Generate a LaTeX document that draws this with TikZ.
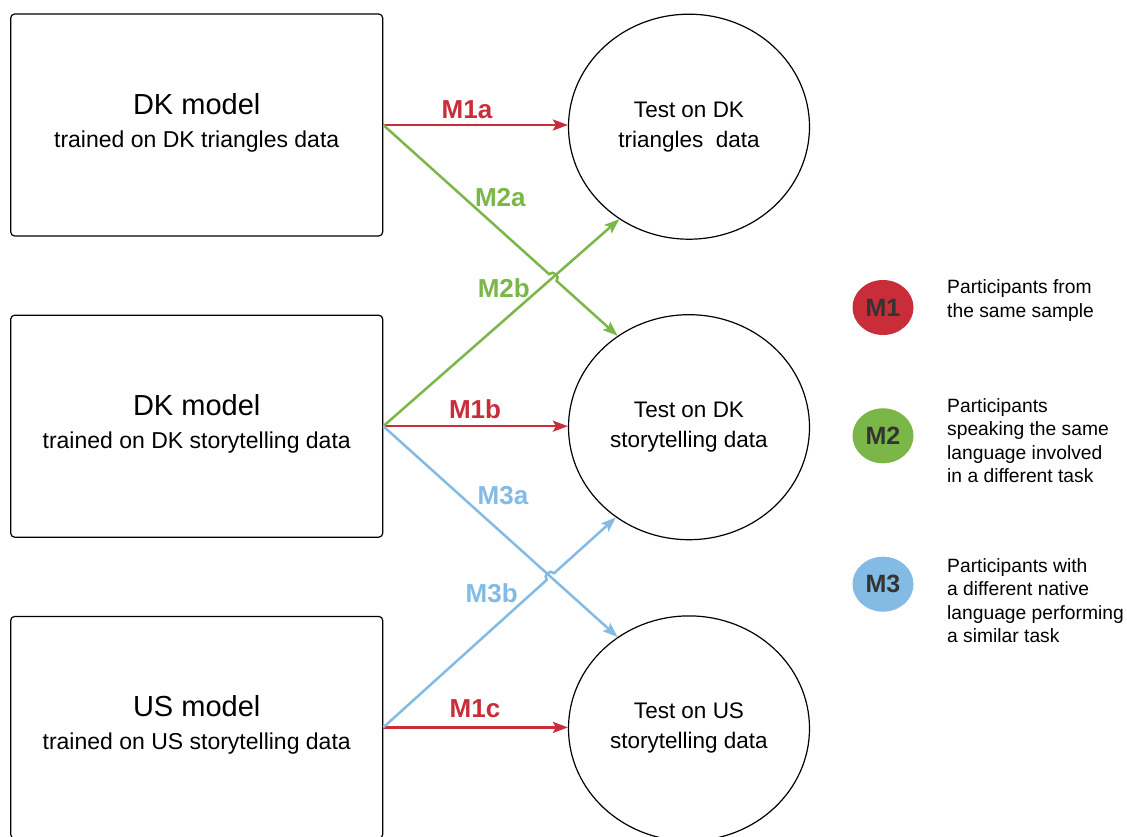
\documentclass[tikz,border=0pt]{standalone}
\usepackage{fontspec}
\setmainfont{Liberation Sans}
\usepackage{xcolor}
\usetikzlibrary{shapes.geometric, arrows.meta, positioning, calc, intersections}
\definecolor{mred}{HTML}{C92D39}
\definecolor{mgreen}{HTML}{7AB648}
\definecolor{mblue}{HTML}{83BBE5}
\definecolor{mtext}{HTML}{333333}
\tikzstyle{model} = [rectangle, rounded corners=4pt, minimum width=372pt, minimum height=222pt, text centered, align=center, draw=black, line width=1.2pt, inner sep=0pt, font=\fontsize{23}{33}\selectfont]
\tikzstyle{testset} = [ellipse, minimum width=241pt, minimum height=225pt, text centered, align=center, draw=black, line width=1.2pt, inner sep=0pt, font=\fontsize{22.5}{30}\selectfont]
\tikzstyle{key} = [ellipse, minimum width=61pt, minimum height=55pt, inner sep=0pt, text=mtext, font=\bfseries\fontsize{25}{30}\selectfont]
\tikzstyle{keytext} = [anchor=north west, align=left, inner sep=0pt, font=\fontsize{19.25}{23.5}\selectfont]
\tikzstyle{mlabel} = [inner sep=0pt, font=\bfseries\fontsize{26}{30}\selectfont]
\tikzstyle{arrow} = [line width=2.5pt, -{Stealth[length=15pt, width=11pt, inset=3pt]}]
\newcommand{\mtitle}[1]{{\fontsize{29}{33}\selectfont #1}}
\newcommand{\mlow}{\rule[-9pt]{0pt}{9pt}}

\begin{document}
\begin{tikzpicture}[x=1pt, y=-1pt]
    \useasboundingbox (0,0) rectangle (1127,837);
    \node (dkT) [model] at (196.7,125) {\mtitle{DK model}\\trained on DK triangles data\mlow};
    \node (dkS) [model, below=78pt of dkT] {\mtitle{DK model}\\trained on DK storytelling data\mlow};
    \node (usS) [model, below=78pt of dkS] {\mtitle{US model}\\trained on US storytelling data\mlow};

    \node (tDKt) [testset, right=184.6pt of dkT, yshift=-1.7pt] {Test on DK\\triangles\ \ data};
    \node (tDKs) [testset, right=184.6pt of dkS, yshift=-1pt] {Test on DK\\storytelling data};
    \node (tUSs) [testset, right=184.6pt of usS, yshift=-1pt] {Test on US\\storytelling data};

    \draw [arrow, mred] (dkT.east) -- (dkT.east -| tDKt.west);
    \draw [arrow, mred] (dkS.east) -- (dkS.east -| tDKs.west);
    \draw [arrow, mred] (usS.east) -- (usS.east -| tUSs.west);

    \draw [arrow, mgreen, name path=mtwob] (dkS.east) -- (tDKt.233);
    \path [name path=mtwoa] (dkT.east) -- (tDKs.128);
    \path [name intersections={of=mtwoa and mtwob, by=hopa}];
    \draw [arrow, mgreen] (dkT.east) -- ($(hopa)!5pt!(dkT.east)$) to[bend left=90, looseness=1.5] ($(hopa)!5pt!(tDKs.128)$) -- (tDKs.128);

    \draw [arrow, mblue, name path=mthreea] (dkS.east) -- (tUSs.128);
    \path [name path=mthreeb] (usS.east) -- (tDKs.231);
    \path [name intersections={of=mthreea and mthreeb, by=hopb}];
    \draw [arrow, mblue] (usS.east) -- ($(hopb)!5pt!(usS.east)$) to[bend left=90, looseness=1.5] ($(hopb)!5pt!(tDKs.231)$) -- (tDKs.231);

    \node (lMia) [mlabel, text=mred] at (467,109.5) {M1a};
    \node (lMib) [mlabel, text=mred] at (475,409.5) {M1b};
    \node (lMic) [mlabel, text=mred] at (475,709) {M1c};
    \node (lMiia) [mlabel, text=mgreen] at (500.3,198) {M2a};
    \node (lMiib) [mlabel, text=mgreen] at (503.8,288.3) {M2b};
    \node (lMiiia) [mlabel, text=mblue] at (503,496) {M3a};
    \node (lMiiib) [mlabel, text=mblue] at (491.7,593.3) {M3b};

    \node (keyA) [key, fill=mred] at (883,307.5) {M1};
    \node (keyB) [key, fill=mgreen] at (883,435.8) {M2};
    \node (keyC) [key, fill=mblue] at (883,584.2) {M3};
    \node (keyAt) [keytext] at (947,279.5) {Participants from\\the same sample};
    \node (keyBt) [keytext] at (947,398) {Participants\\speaking the same\\language involved\\in a different task};
    \node (keyCt) [keytext] at (947,558) {Participants with\\a different native\\language performing\\a similar task};
\end{tikzpicture}
\end{document}
